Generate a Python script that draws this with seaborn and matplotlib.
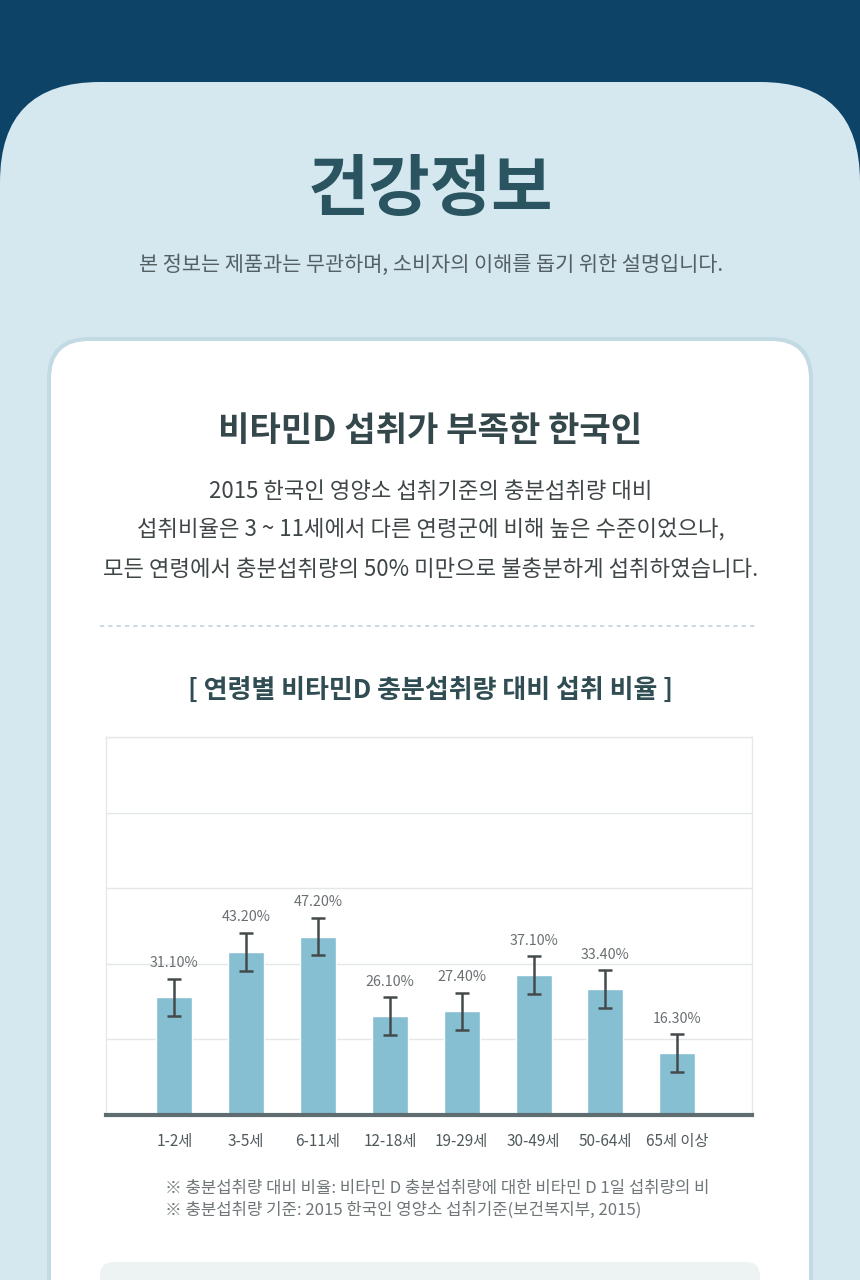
import matplotlib
matplotlib.use("Agg")
import matplotlib.pyplot as plt
from matplotlib.patches import FancyBboxPatch
import seaborn as sns
import pandas as pd

# ---------------- data ----------------
age_groups = ["1-2세", "3-5세", "6-11세", "12-18세", "19-29세", "30-49세", "50-64세", "65세 이상"]
ratios = [31.1, 43.2, 47.2, 26.1, 27.4, 37.1, 33.4, 16.3]
errors = [5.0, 5.0, 5.0, 5.0, 5.0, 5.0, 5.0, 5.0]
value_labels = ["31.10%", "43.20%", "47.20%", "26.10%", "27.40%", "37.10%", "33.40%", "16.30%"]
y_ticks = [0, 20, 40, 60, 80, 100]

header_title = "건강정보"
header_sub = "본 정보는 제품과는 무관하며, 소비자의 이해를 돕기 위한 설명입니다."
card_title = "비타민D 섭취가 부족한 한국인"
body_lines = [
    "2015 한국인 영양소 섭취기준의 충분섭취량 대비",
    "섭취비율은 3 ~ 11세에서 다른 연령군에 비해 높은 수준이었으나,",
    "모든 연령에서 충분섭취량의 50% 미만으로 불충분하게 섭취하였습니다.",
]
chart_title = "[ 연령별 비타민D 충분섭취량 대비 섭취 비율 ]"
footnotes = [
    "※ 충분섭취량 대비 비율: 비타민 D 충분섭취량에 대한 비타민 D 1일 섭취량의 비",
    "※ 충분섭취량 기준: 2015 한국인 영양소 섭취기준(보건복지부, 2015)",
]

# ---------------- style ----------------
sns.set_theme(style="white")
plt.rcParams["font.family"] = ["Noto Sans CJK KR", "DejaVu Sans"]

W, H = 860, 1280
fig = plt.figure(figsize=(W / 100, H / 100), dpi=100)
fig.patch.set_facecolor("#0e4368")

# background layer axes in pixel coordinates
bg = fig.add_axes([0, 0, 1, 1])
bg.set_xlim(0, W)
bg.set_ylim(H, 0)
bg.axis("off")

# light panel with rounded top corners
bg.add_patch(FancyBboxPatch((0, 82), W, 1400, boxstyle="round,pad=0,rounding_size=100",
                            facecolor="#d5e8f0", edgecolor="none"))
# card shadow/border
bg.add_patch(FancyBboxPatch((47, 337), 766, 1100, boxstyle="round,pad=0,rounding_size=42",
                            facecolor="#c2dae3", edgecolor="none"))
# white card
bg.add_patch(FancyBboxPatch((51, 341), 758, 1100, boxstyle="round,pad=0,rounding_size=38",
                            facecolor="white", edgecolor="none"))
# bottom grey box
bg.add_patch(FancyBboxPatch((100, 1262), 660, 100, boxstyle="round,pad=0,rounding_size=14",
                            facecolor="#edf2f3", edgecolor="none"))
# dashed separator
bg.plot([100, 758], [626, 626], linestyle=(0, (2.5, 2.5)), color="#bfd3da", linewidth=1.2)

# texts
bg.text(430, 191, header_title, ha="center", va="center", fontsize=48, fontweight="black",
        color="#2a5560")
bg.text(431, 265, header_sub, ha="center", va="center", fontsize=15, color="#556065")
bg.text(430, 430, card_title, ha="center", va="center", fontsize=24.6, fontweight="bold",
        color="#34474b")
for y, line in zip([491, 529, 569], body_lines):
    bg.text(431, y, line, ha="center", va="center", fontsize=16, color="#3f4648")
bg.text(430, 690, chart_title, ha="center", va="center", fontsize=18.7, fontweight="bold",
        color="#2f4d52")
for y, line in zip([1188, 1210], footnotes):
    bg.text(165, y, line, ha="left", va="center", fontsize=12, color="#6f7678")

# ---------------- chart ----------------
ax_l, ax_r, ax_t, ax_b = 106, 752, 737, 1115
ax = fig.add_axes([ax_l / W, 1 - ax_b / H, (ax_r - ax_l) / W, (ax_b - ax_t) / H])
ax.set_facecolor("white")

df = pd.DataFrame({"age": age_groups, "ratio": ratios})
sns.barplot(data=df, x="age", y="ratio", order=age_groups, color="#86bfd2",
            width=0.5, errorbar=None, saturation=1, ax=ax, zorder=2)
ax.errorbar(range(len(age_groups)), ratios, yerr=errors, fmt="none", ecolor="#444a4c",
            elinewidth=1.8, capsize=5, capthick=1.8, zorder=3)
for i, (v, e, lab) in enumerate(zip(ratios, errors, value_labels)):
    ax.text(i, v + e + 2.2, lab, ha="center", va="bottom", fontsize=10.3,
            color="#6a7072")

ax.set_ylim(0, 100)
ax.set_xlim(-0.95, 8.04)
ax.set_yticks(y_ticks)
ax.yaxis.grid(True, color="#e4e7e8", linewidth=1)
ax.set_axisbelow(True)
ax.tick_params(axis="y", left=False, labelleft=False)
ax.tick_params(axis="x", bottom=False, pad=7)
ax.set_xlabel("")
ax.set_ylabel("")
for lab in ax.get_xticklabels():
    lab.set_fontsize(11)
    lab.set_color("#505a5d")
    lab.set_fontweight("medium")
for side in ["top", "left", "right"]:
    ax.spines[side].set_color("#e6e9ea")
    ax.spines[side].set_linewidth(1)
ax.spines["bottom"].set_color("#5f6d70")
ax.spines["bottom"].set_linewidth(3)

fig.savefig("out.png", dpi=100, facecolor=fig.get_facecolor())
